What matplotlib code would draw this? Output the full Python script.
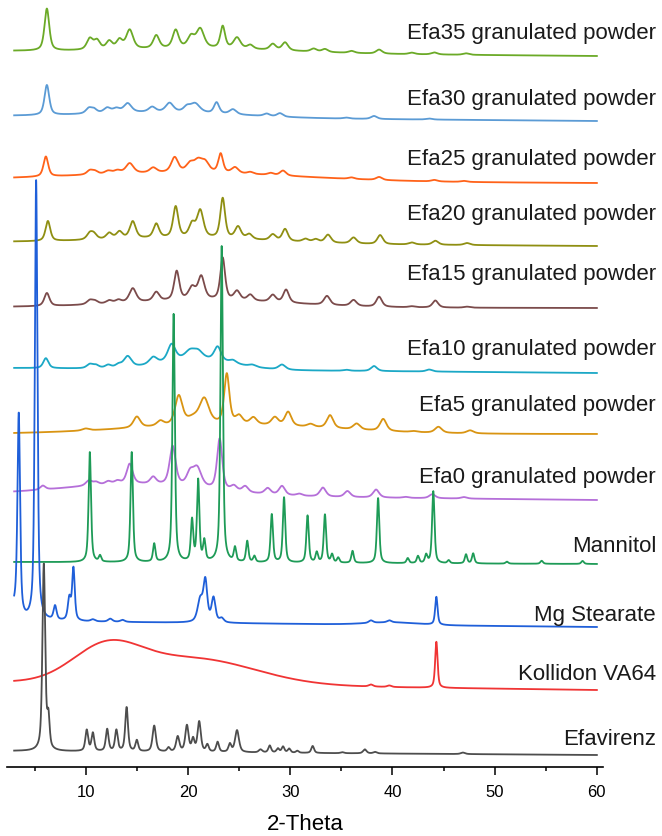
import numpy as np
import matplotlib.pyplot as plt

plt.rcParams["font.family"] = ["Liberation Sans", "DejaVu Sans"]

# ---- data (intensity in a.u., stacked offsets) ----
# peaks: (2-theta, height, fwhm); humps: (centre, height, sigma); base: (start, end)
efa35_peaks = [(6.2, 42, 0.55), (10.4, 11, 0.7), (11.1, 9, 0.7), (12.3, 8, 0.7), (13.3, 9, 0.7),
               (14.3, 19, 0.8), (16.9, 13, 0.7), (18.8, 18, 0.7), (20.3, 11, 0.8), (21.2, 19, 0.9),
               (23.4, 22, 0.55), (24.8, 11, 0.8), (26.1, 4, 0.7), (28.3, 6, 0.7), (29.5, 8, 0.7),
               (32.3, 3, 0.7), (33.4, 3, 0.7), (36.0, 2, 0.7), (38.7, 4, 0.7), (41.9, 1.5, 0.7),
               (44.1, 2, 0.7), (47.2, 1.5, 0.7)]
efa35_humps = [(22, 4, 8)]
efa35_base = (716, 711)

efa30_peaks = [(6.2, 30, 0.55), (10.3, 5, 0.7), (10.8, 4, 0.7), (12.1, 5, 0.8), (13.0, 4, 0.8),
               (14.1, 9, 0.9), (16.5, 5, 0.8), (18.2, 9, 0.9), (19.9, 5, 0.8), (20.7, 9, 1.1),
               (22.8, 11, 0.6), (24.4, 5, 0.8), (27.7, 2.5, 0.7), (29.0, 3.5, 0.7), (35.5, 1, 0.7),
               (38.2, 3, 0.7), (43.6, 1, 0.7)]
efa30_humps = [(18, 5, 7)]
efa30_base = (651, 646)

efa25_peaks = [(6.1, 20, 0.55), (10.4, 4, 0.7), (10.9, 3, 0.7), (12.2, 3, 0.8), (13.1, 3, 0.8),
               (14.3, 10, 0.9), (16.6, 5, 0.8), (18.7, 15, 0.8), (20.2, 8, 0.9), (21.0, 11, 1.0),
               (21.7, 9, 0.9), (23.2, 19, 0.55), (24.6, 6, 0.8), (26.1, 2, 0.7), (28.1, 2, 0.7),
               (29.3, 5, 0.7), (36.0, 1.5, 0.7), (38.7, 3, 0.7), (44.1, 1.5, 0.7), (47.0, 1, 0.7)]
efa25_humps = [(20, 8, 11)]
efa25_base = (587, 584)

efa20_peaks = [(6.3, 20, 0.55), (10.4, 6, 0.7), (10.8, 5, 0.7), (12.3, 6, 0.7), (13.3, 7, 0.7),
               (14.6, 17, 0.7), (16.9, 14, 0.65), (18.8, 31, 0.6), (20.4, 13, 0.7), (21.2, 27, 0.75),
               (23.4, 40, 0.55), (24.9, 12, 0.7), (26.0, 5, 0.7), (28.3, 6, 0.7), (29.5, 12, 0.65),
               (31.5, 3, 0.7), (32.5, 3, 0.7), (33.7, 8, 0.7), (36.2, 6, 0.7), (38.8, 9, 0.65),
               (41.9, 2, 0.7), (44.2, 4, 0.7), (47.3, 2, 0.7)]
efa20_humps = [(20, 5, 8)]
efa20_base = (525, 521)

efa15_peaks = [(6.2, 13, 0.6), (10.4, 4, 0.7), (10.9, 3, 0.7), (12.3, 3, 0.7), (13.2, 3, 0.7),
               (14.6, 14, 0.8), (16.9, 9, 0.7), (18.9, 29, 0.6), (20.4, 12, 0.8), (21.3, 23, 0.75),
               (23.4, 42, 0.55), (24.8, 9, 0.7), (26.1, 6, 0.7), (28.3, 7, 0.7), (29.6, 13, 0.65),
               (33.6, 9, 0.7), (36.2, 6, 0.7), (38.7, 10, 0.65), (41.9, 1, 0.7), (44.2, 7, 0.65),
               (47.3, 1, 0.7)]
efa15_humps = [(22, 7, 8)]
efa15_base = (460, 459)

efa10_peaks = [(6.1, 10, 0.6), (10.4, 4, 0.7), (11.0, 3, 0.7), (12.2, 3, 0.7), (13.2, 3, 0.7),
               (14.1, 11, 0.9), (16.6, 7, 0.9), (18.4, 17, 0.9), (20.2, 8, 1.2), (21.0, 7, 1.1),
               (22.9, 14, 0.8), (24.4, 3, 0.8), (26.3, 2, 0.8), (29.2, 5, 0.8), (35.5, 1, 0.7),
               (38.2, 5, 0.7), (43.6, 2, 0.7)]
efa10_humps = [(21, 10, 3.5)]
efa10_base = (399, 394)

efa5_peaks = [(10.0, 2, 0.8), (15.0, 11, 0.8), (17.3, 5, 0.8), (19.1, 29, 0.85), (20.5, 6, 1.5),
              (21.6, 25, 1.1), (23.8, 50, 0.6), (25.0, 8, 0.8), (26.4, 7, 0.8), (28.5, 8, 0.8),
              (29.8, 14, 0.75), (32.0, 3, 0.8), (33.9, 13, 0.75), (36.5, 6, 0.8), (39.1, 12, 0.75),
              (42.1, 1, 0.8), (44.5, 6, 0.8), (47.6, 3, 0.8)]
efa5_humps = [(24, 9, 10)]
efa5_base = (333, 333)

efa0_peaks = [(5.8, 4, 0.6), (10.3, 5, 0.7), (11.0, 3, 0.7), (12.2, 3, 0.7), (13.1, 3, 0.7),
              (14.3, 20, 0.7), (16.6, 7, 0.7), (18.5, 39, 0.7), (20.2, 12, 0.8), (20.9, 19, 1.0),
              (23.1, 51, 0.6), (24.5, 5, 0.7), (25.6, 6, 0.7), (27.8, 6, 0.7), (29.2, 9, 0.7),
              (30.9, 2, 0.7), (33.2, 9, 0.7), (35.6, 6, 0.7), (38.4, 8, 0.7), (41.3, 1, 0.7),
              (43.9, 4, 0.7), (47.0, 1.5, 0.7)]
efa0_humps = [(15, 11, 7)]
efa0_base = (273, 267)

mannitol_peaks = [(10.4, 110, 0.28), (11.4, 6, 0.28), (14.5, 110, 0.28), (16.7, 18, 0.28),
                  (18.6, 248, 0.28), (20.4, 41, 0.28), (21.0, 81, 0.28), (21.6, 20, 0.28),
                  (23.3, 316, 0.28), (24.6, 14, 0.28), (25.8, 21, 0.28), (26.5, 6, 0.28),
                  (28.2, 48, 0.28), (29.4, 65, 0.28), (31.7, 47, 0.28), (32.6, 10, 0.28),
                  (33.4, 48, 0.28), (34.1, 8, 0.28), (34.7, 5, 0.28), (36.1, 12, 0.28),
                  (38.6, 65, 0.28), (41.5, 5, 0.28), (42.5, 7, 0.28), (43.3, 8, 0.28),
                  (44.0, 72, 0.28), (45.5, 3, 0.28), (47.2, 9, 0.28), (47.9, 10, 0.28),
                  (51.2, 2, 0.3), (54.6, 3, 0.3), (58.6, 3, 0.3)]
mannitol_humps = []
mannitol_base = (205, 203)

mgst_peaks = [(3.45, 200, 0.3), (5.15, 440, 0.3), (7.0, 14, 0.35), (8.4, 22, 0.35), (8.8, 52, 0.3),
              (10.7, 2, 0.5), (12.4, 3, 0.5), (13.6, 2, 0.5), (21.2, 22, 0.6), (21.7, 40, 0.45),
              (22.5, 24, 0.45), (23.3, 4, 0.5), (37.9, 2.5, 0.5), (39.7, 2, 0.5), (44.3, 28, 0.28)]
mgst_humps = [(3.0, 12, 0.4), (40, 2.5, 2.5)]
mgst_base = (146, 140)

kollidon_peaks = [(37.9, 2, 0.5), (39.7, 1.5, 0.5), (44.3, 46, 0.28)]
kollidon_humps = [(12, 33, 3.3), (20.5, 26, 6)]
kollidon_base = (85, 77)

efavirenz_peaks = [(5.9, 186, 0.32), (6.35, 30, 0.28), (10.1, 21, 0.32), (10.7, 18, 0.32),
                   (12.1, 22, 0.32), (13.0, 21, 0.32), (14.0, 44, 0.32), (15.0, 11, 0.32),
                   (16.7, 26, 0.38), (18.1, 4, 0.32), (19.0, 15, 0.38), (19.9, 26, 0.38),
                   (20.5, 12, 0.32), (21.1, 30, 0.38), (21.9, 7, 0.32), (22.9, 10, 0.32),
                   (24.1, 8, 0.32), (24.8, 22, 0.45), (27.1, 3, 0.4), (28.0, 7, 0.32),
                   (28.8, 4, 0.32), (29.3, 6, 0.32), (29.9, 4, 0.32), (30.7, 2, 0.32),
                   (32.2, 7, 0.32), (35.1, 1, 0.4), (37.3, 4, 0.4), (38.3, 1.5, 0.4),
                   (46.9, 1.5, 0.5)]
efavirenz_humps = []
efavirenz_base = (16, 12)

labels = ["Efa35 granulated powder", "Efa30 granulated powder", "Efa25 granulated powder",
          "Efa20 granulated powder", "Efa15 granulated powder", "Efa10 granulated powder",
          "Efa5 granulated powder", "Efa0 granulated powder", "Mannitol", "Mg Stearate",
          "Kollidon VA64", "Efavirenz"]
colors = ["#6BAA27", "#5B9BD5", "#FF6219", "#8F8F12", "#7B4B4B", "#1BA8C6",
          "#D99412", "#B56FD9", "#1E9B57", "#1F5FD9", "#F03434", "#4D4D4D"]
label_y_px = [33, 99, 159, 215, 275, 350, 406, 478, 547, 615, 675, 740]

traces = [
    (efa35_peaks, efa35_humps, efa35_base),
    (efa30_peaks, efa30_humps, efa30_base),
    (efa25_peaks, efa25_humps, efa25_base),
    (efa20_peaks, efa20_humps, efa20_base),
    (efa15_peaks, efa15_humps, efa15_base),
    (efa10_peaks, efa10_humps, efa10_base),
    (efa5_peaks, efa5_humps, efa5_base),
    (efa0_peaks, efa0_humps, efa0_base),
    (mannitol_peaks, mannitol_humps, mannitol_base),
    (mgst_peaks, mgst_humps, mgst_base),
    (kollidon_peaks, kollidon_humps, kollidon_base),
    (efavirenz_peaks, efavirenz_humps, efavirenz_base),
]


def pseudo_voigt(x, c, h, w, eta=0.6):
    g = np.exp(-4 * np.log(2) * ((x - c) / w) ** 2)
    l = 1 / (1 + 4 * ((x - c) / w) ** 2)
    return h * (eta * l + (1 - eta) * g)


two_theta = np.linspace(3, 60, 5701)

W, H = 662, 837
fig = plt.figure(figsize=(W / 100, H / 100), dpi=100)
ax = fig.add_axes([7 / W, 69 / H, 596 / W, 768 / H])

for (peaks, humps, base), color in zip(traces, colors):
    y = np.linspace(base[0], base[1], two_theta.size)
    for c, h, s in humps:
        y = y + h * np.exp(-((two_theta - c) ** 2) / (2 * s ** 2))
    for c, h, w in peaks:
        y = y + pseudo_voigt(two_theta, c, h, w)
    ax.plot(two_theta, y, color=color, lw=1.3)

for lab, ypx in zip(labels, label_y_px):
    fig.text(656 / W, 1 - ypx / H, lab, ha="right", va="center", fontsize=16,
             color="#1a1a1a")

ax.set_xlim(2.3, 60.6)
ax.set_ylim(0, 768)
for s in ["left", "top", "right"]:
    ax.spines[s].set_visible(False)
ax.spines["bottom"].set_linewidth(1.2)
ax.set_yticks([])
ax.set_xticks([10, 20, 30, 40, 50, 60])
ax.set_xticks([5, 15, 25, 35, 45, 55], minor=True)
ax.tick_params(axis="x", which="major", length=5.5, width=1.1, labelsize=12, pad=7)
ax.tick_params(axis="x", which="minor", length=3, width=1.1)
ax.set_xlabel("2-Theta", fontsize=16, labelpad=10)

fig.savefig("out.png", dpi=100)
